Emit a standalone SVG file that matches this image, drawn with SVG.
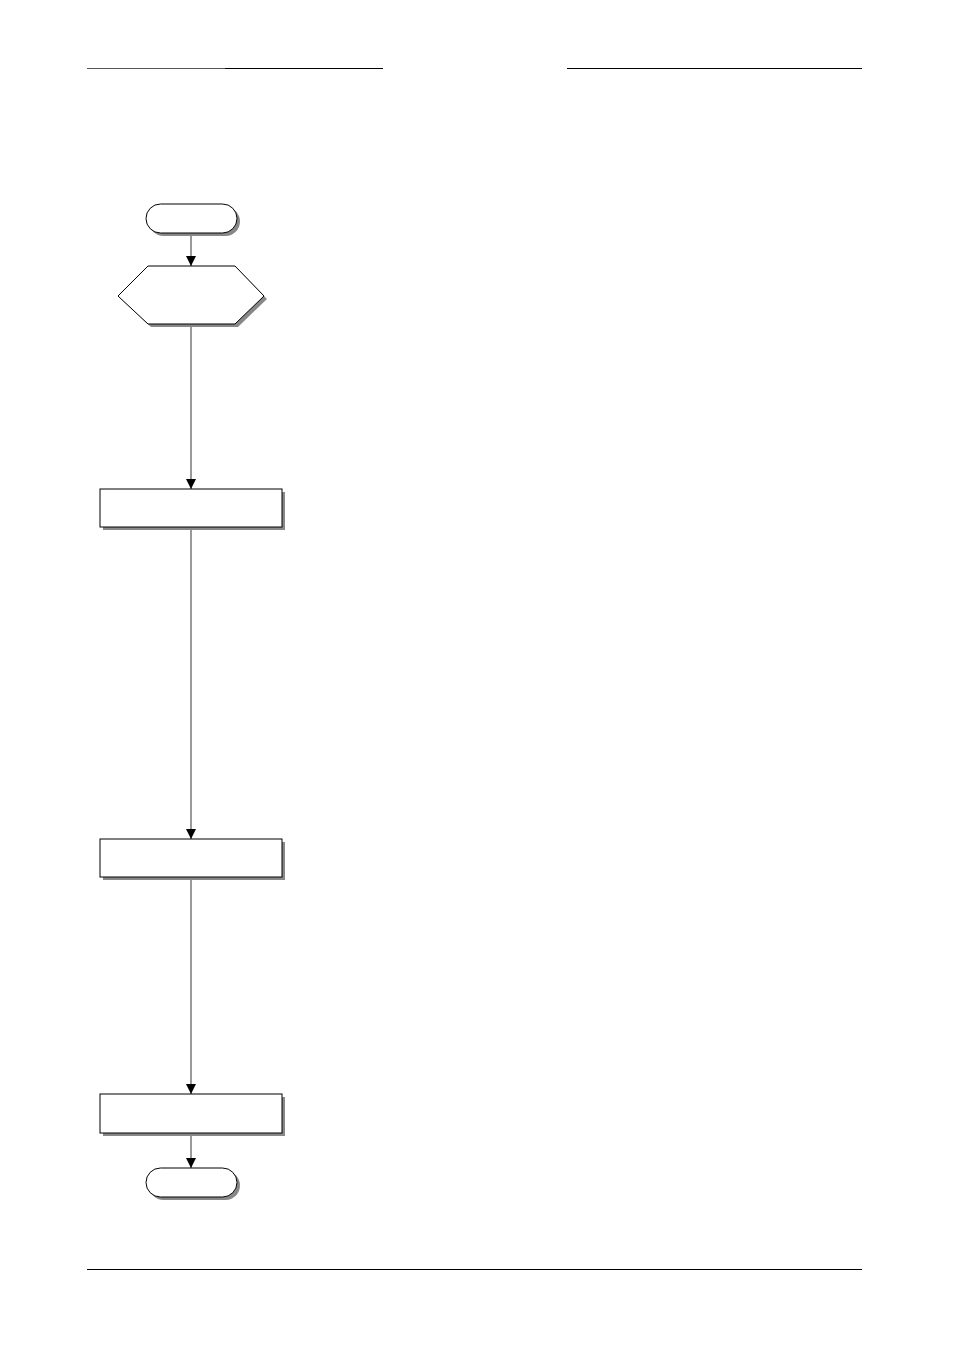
<svg xmlns="http://www.w3.org/2000/svg" width="954" height="1350" viewBox="0 0 954 1350">
<style>
.sh{fill:#888;stroke:none}
.nd{fill:#fff;stroke:#000;stroke-width:1}
.cn{stroke:#000;stroke-width:0.8;fill:none;marker-end:url(#ah)}
.rule{stroke:#000;stroke-width:1}
</style>
<defs>
<marker id="ah" viewBox="0 0 10 10" refX="10" refY="5" markerWidth="10" markerHeight="10" markerUnits="userSpaceOnUse" orient="auto">
<path d="M0,0 L10,5 L0,10 Z" fill="#000"/>
</marker>
</defs>
<rect width="954" height="1350" fill="#fff"/>
<g id="header">
<line x1="87" y1="68.5" x2="225" y2="68.5" stroke="#555" stroke-width="1.2"/>
<line x1="225" y1="68.5" x2="383" y2="68.5" class="rule"/>
<line x1="567" y1="68.5" x2="862" y2="68.5" class="rule"/>
</g>
<g id="footer">
<line x1="87" y1="1269.5" x2="862" y2="1269.5" class="rule"/>
</g>
<g id="connectors">
<line x1="191" y1="233" x2="191" y2="266" class="cn"/>
<line x1="191" y1="324" x2="191" y2="489" class="cn"/>
<line x1="191" y1="527" x2="191" y2="839" class="cn"/>
<line x1="191" y1="877" x2="191" y2="1094" class="cn"/>
<line x1="191" y1="1133" x2="191" y2="1168" class="cn"/>
</g>
<g id="start">
<rect x="149" y="207" width="91" height="29" rx="14.5" class="sh"/>
<rect x="146" y="204" width="91" height="29" rx="14.5" class="nd"/>
</g>
<g id="decision">
<polygon points="151,269 238,269 267,299 238,327 151,327 121,299" class="sh"/>
<polygon points="148,266 235,266 264,296 235,324 148,324 118,296" class="nd"/>
</g>
<g id="process1">
<rect x="103" y="492" width="182" height="38" class="sh"/>
<rect x="100" y="489" width="182" height="38" class="nd"/>
</g>
<g id="process2">
<rect x="103" y="842" width="182" height="38" class="sh"/>
<rect x="100" y="839" width="182" height="38" class="nd"/>
</g>
<g id="process3">
<rect x="103" y="1097" width="182" height="39" class="sh"/>
<rect x="100" y="1094" width="182" height="39" class="nd"/>
</g>
<g id="end">
<rect x="149" y="1171" width="91" height="29" rx="14.5" class="sh"/>
<rect x="146" y="1168" width="91" height="29" rx="14.5" class="nd"/>
</g>
</svg>
